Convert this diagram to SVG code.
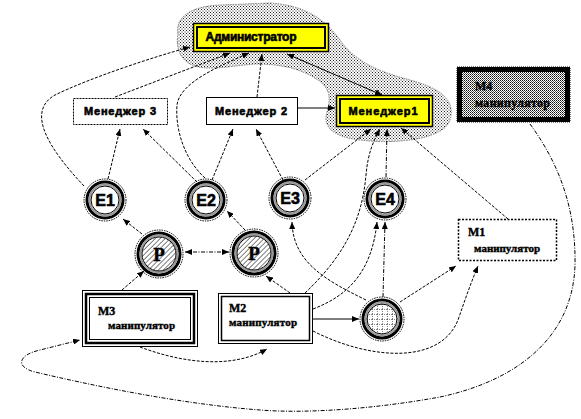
<svg xmlns="http://www.w3.org/2000/svg" width="581" height="419" viewBox="0 0 581 419">
<style>
.c{fill:none;stroke:#000;stroke-width:1;stroke-dasharray:3,1.5}
.cd{fill:none;stroke:#000;stroke-width:1;stroke-dasharray:4,1.5,1,1.5}
.s{fill:none;stroke:#000;stroke-width:1}
.ring{fill:none;stroke:#000;stroke-width:1;stroke-dasharray:1.5,1}
.lbl{font-family:"Liberation Sans",Arial,sans-serif;font-weight:bold;fill:#000;stroke:#000;stroke-width:0.6}
.ser{font-family:"Liberation Serif","Times New Roman",serif;font-weight:bold;fill:#000;stroke:#000;stroke-width:0.4}
</style>
<defs>
<marker id="ah" markerUnits="userSpaceOnUse" markerWidth="7" markerHeight="6" refX="7" refY="3" orient="auto-start-reverse"><path d="M0,0 L7,3 L0,6 z" fill="#000"/></marker>
<pattern id="dots" width="3" height="3" patternUnits="userSpaceOnUse"><rect width="3" height="3" fill="#fff"/><rect width="1" height="1" fill="#222"/><rect x="1.5" y="1.5" width="1" height="1" fill="#222"/></pattern>
<pattern id="dots2" width="2" height="2" patternUnits="userSpaceOnUse"><rect width="2" height="2" fill="#fff"/><rect width="1" height="1" fill="#111"/><rect x="1" y="1" width="1" height="1" fill="#555"/></pattern>
<pattern id="hatch" width="3.5" height="3.5" patternUnits="userSpaceOnUse" patternTransform="rotate(45)"><rect width="3.5" height="3.5" fill="#fff"/><line x1="0" y1="0" x2="0" y2="3.5" stroke="#000" stroke-width="1"/></pattern>
<pattern id="grid" width="5" height="5" patternUnits="userSpaceOnUse"><rect width="5" height="5" fill="#fff"/><path d="M0,0.5 H5 M0.5,0 V5" stroke="#666" stroke-width="0.8" stroke-dasharray="1,1"/></pattern>
</defs>

<g id="cloud">
<path d="M178,33 C175,15 195,6 220,5 L270,3 C300,5 322,15 340,40 C355,62 380,72 410,80 C440,88 456,100 450,120 C445,138 400,145 360,140 C335,137 322,128 327,112 C330,100 332,90 318,80 C300,68 280,64 255,64 C230,66 205,72 190,64 C178,57 176,45 178,33 Z" fill="url(#dots)" stroke="#888" stroke-width="1" stroke-dasharray="1.5,1"/>
</g>

<g id="connectors">
<path class="c" d="M108,179 L120,129" marker-end="url(#ah)"/>
<path class="c" d="M197,182 L143,129" marker-end="url(#ah)"/>
<path class="c" d="M212,180 L233,129" marker-end="url(#ah)"/>
<path class="c" d="M283,180 L256,129" marker-end="url(#ah)"/>
<path class="s" d="M298,108 L335,108" marker-end="url(#ah)"/>
<path class="c" d="M84,186 C50,150 25,112 55,95 C90,78 150,58 190,47" marker-end="url(#ah)"/>
<path class="c" d="M115,97 L230,53" marker-end="url(#ah)"/>
<path class="c" d="M205,178 C185,160 175,130 177,105 C180,82 220,66 249,53" marker-end="url(#ah)"/>
<path class="c" d="M257,97 L262,54" marker-end="url(#ah)"/>
<path class="s" d="M287,54 L382,95" marker-start="url(#ah)" marker-end="url(#ah)"/>
<path class="c" d="M305,180 L371,129" marker-end="url(#ah)"/>
<path class="c" d="M305,293 C345,255 362,220 366,175 C368,152 374,140 380,129" marker-end="url(#ah)"/>
<path class="cd" d="M386,177 L387,129" marker-end="url(#ah)"/>
<path class="c" d="M508,219 L401,128" marker-end="url(#ah)"/>
<path class="c" d="M142,234 L123,219" marker-end="url(#ah)"/>
<path class="c" d="M245,230 L227,211" marker-end="url(#ah)"/>
<path class="cd" d="M185,252 L229,252" marker-start="url(#ah)" marker-end="url(#ah)"/>
<path class="c" d="M122,290 L144,271" marker-end="url(#ah)"/>
<path class="c" d="M290,293 L266,276" marker-end="url(#ah)"/>
<path class="c" d="M366,300 C325,280 293,262 292,222" marker-end="url(#ah)"/>
<path class="cd" d="M383,297 L385,222" marker-end="url(#ah)"/>
<path class="c" d="M313,309 C350,295 372,270 377,222" marker-end="url(#ah)"/>
<path class="s" d="M313,319 L359,319" marker-end="url(#ah)"/>
<path class="c" d="M400,302 L456,266" marker-end="url(#ah)"/>
<path class="c" d="M313,331 C370,360 440,365 458,320 C465,300 470,285 478,266" marker-end="url(#ah)"/>
<path class="c" d="M140,347 C180,362 230,370 267,349" marker-end="url(#ah)"/>
<path class="cd" d="M530,124 C560,165 576,210 575,265 C573,335 520,380 440,397 C380,408 310,414 260,410 C180,404 90,385 35,372 C15,367 18,355 40,350 L80,340" marker-end="url(#ah)"/>
</g>

<g id="admin">
<rect x="193.5" y="23.5" width="135" height="28" fill="#ff0" stroke="#000" stroke-width="1.5"/>
<rect x="197" y="27" width="128" height="21" fill="#ff0" stroke="#000" stroke-width="2"/>
<text class="lbl" x="251" y="41" font-size="12" text-anchor="middle" textLength="91">Администратор</text>
</g>

<g id="manager3">
<rect x="73.5" y="98.5" width="94" height="26" fill="#fff" stroke="#000" stroke-width="1" stroke-dasharray="2,1"/>
<text class="lbl" x="120" y="115" font-size="11" text-anchor="middle" textLength="72">Менеджер 3</text>
</g>

<g id="manager2">
<rect x="206.5" y="97.5" width="91" height="27" fill="#fff" stroke="#000" stroke-width="1"/>
<text class="lbl" x="251" y="115" font-size="11" text-anchor="middle" textLength="72">Менеджер 2</text>
</g>

<g id="manager1">
<rect x="336.5" y="95.5" width="96" height="31" fill="#ff0" stroke="#000" stroke-width="1.5"/>
<rect x="340" y="99" width="89" height="24" fill="#ff0" stroke="#000" stroke-width="2"/>
<text class="lbl" x="383" y="115" font-size="11" text-anchor="middle" textLength="69">Менеджер1</text>
</g>

<g id="m4">
<rect x="459.5" y="69.5" width="108" height="50" fill="url(#dots2)" stroke="#000" stroke-width="5"/>
<rect x="457" y="67" width="113" height="55" fill="none" stroke="#000" stroke-width="1" stroke-dasharray="1,1"/>
<text class="ser" x="475" y="90" font-size="12">М4</text>
<text class="ser" x="475" y="107" font-size="12" textLength="75">манипулятор</text>
</g>

<g id="m1">
<rect x="458.5" y="219.5" width="98" height="41" fill="#fff" stroke="#000" stroke-width="1.5" stroke-dasharray="2,1.5"/>
<text class="ser" x="468" y="236" font-size="12">М1</text>
<text class="ser" x="474" y="252" font-size="11" textLength="66">манипулятор</text>
</g>

<g id="m3">
<rect x="82.5" y="290.5" width="115" height="56" fill="#fff" stroke="#000" stroke-width="1"/>
<rect x="86" y="294" width="108" height="49" fill="none" stroke="#000" stroke-width="2.5"/>
<rect x="89.5" y="297.5" width="101" height="42" fill="none" stroke="#000" stroke-width="1"/>
<text class="ser" x="98" y="315" font-size="12">М3</text>
<text class="ser" x="108" y="329" font-size="11" textLength="67">манипулятор</text>
</g>

<g id="m2">
<rect x="218.5" y="293.5" width="94" height="50" fill="#fff" stroke="#000" stroke-width="1"/>
<rect x="221.5" y="296.5" width="88" height="44" fill="none" stroke="#000" stroke-width="1.5"/>
<text class="ser" x="229" y="312" font-size="12">М2</text>
<text class="ser" x="229" y="326" font-size="11" textLength="68">манипулятор</text>
</g>

<g id="E1" transform="translate(105,200)">
<circle r="21" class="ring"/>
<circle r="18" fill="#fff" stroke="#000" stroke-width="3"/>
<circle r="15.5" fill="none" stroke="#999" stroke-width="2"/>
<circle r="14" fill="#fff" stroke="#000" stroke-width="1"/>
<text class="lbl" y="6" font-size="16" text-anchor="middle">E1</text>
</g>
<g id="E2" transform="translate(206,200)">
<circle r="21" class="ring"/>
<circle r="18" fill="#fff" stroke="#000" stroke-width="3"/>
<circle r="15.5" fill="none" stroke="#999" stroke-width="2"/>
<circle r="14" fill="#fff" stroke="#000" stroke-width="1"/>
<text class="lbl" y="6" font-size="16" text-anchor="middle">E2</text>
</g>
<g id="E3" transform="translate(290,198)">
<circle r="21" class="ring"/>
<circle r="18" fill="#fff" stroke="#000" stroke-width="3"/>
<circle r="15.5" fill="none" stroke="#999" stroke-width="2"/>
<circle r="14" fill="#fff" stroke="#000" stroke-width="1"/>
<text class="lbl" y="6" font-size="16" text-anchor="middle">E3</text>
</g>
<g id="E4" transform="translate(385,199)">
<circle r="21" class="ring"/>
<circle r="18" fill="#fff" stroke="#000" stroke-width="3"/>
<circle r="15.5" fill="none" stroke="#999" stroke-width="2"/>
<circle r="14" fill="#fff" stroke="#000" stroke-width="1"/>
<text class="lbl" y="6" font-size="16" text-anchor="middle">E4</text>
</g>

<g id="P1" transform="translate(159,254)">
<circle r="24" class="ring"/>
<circle r="21" fill="#fff" stroke="#000" stroke-width="3"/>
<circle r="18.5" fill="none" stroke="#999" stroke-width="2"/>
<circle r="17" fill="url(#hatch)" stroke="#000" stroke-width="1"/>
<text class="ser" y="7" font-size="19" text-anchor="middle">Р</text>
</g>
<g id="P2" transform="translate(254,253)">
<circle r="24" class="ring"/>
<circle r="21" fill="#fff" stroke="#000" stroke-width="3"/>
<circle r="18.5" fill="none" stroke="#999" stroke-width="2"/>
<circle r="17" fill="url(#hatch)" stroke="#000" stroke-width="1"/>
<text class="ser" y="7" font-size="19" text-anchor="middle">Р</text>
</g>

<g id="G" transform="translate(382,319)">
<circle r="22" class="ring"/>
<circle r="19" fill="#fff" stroke="#000" stroke-width="3"/>
<circle r="16.5" fill="none" stroke="#999" stroke-width="2"/>
<circle r="15" fill="url(#grid)" stroke="#000" stroke-width="1"/>
</g>
</svg>
